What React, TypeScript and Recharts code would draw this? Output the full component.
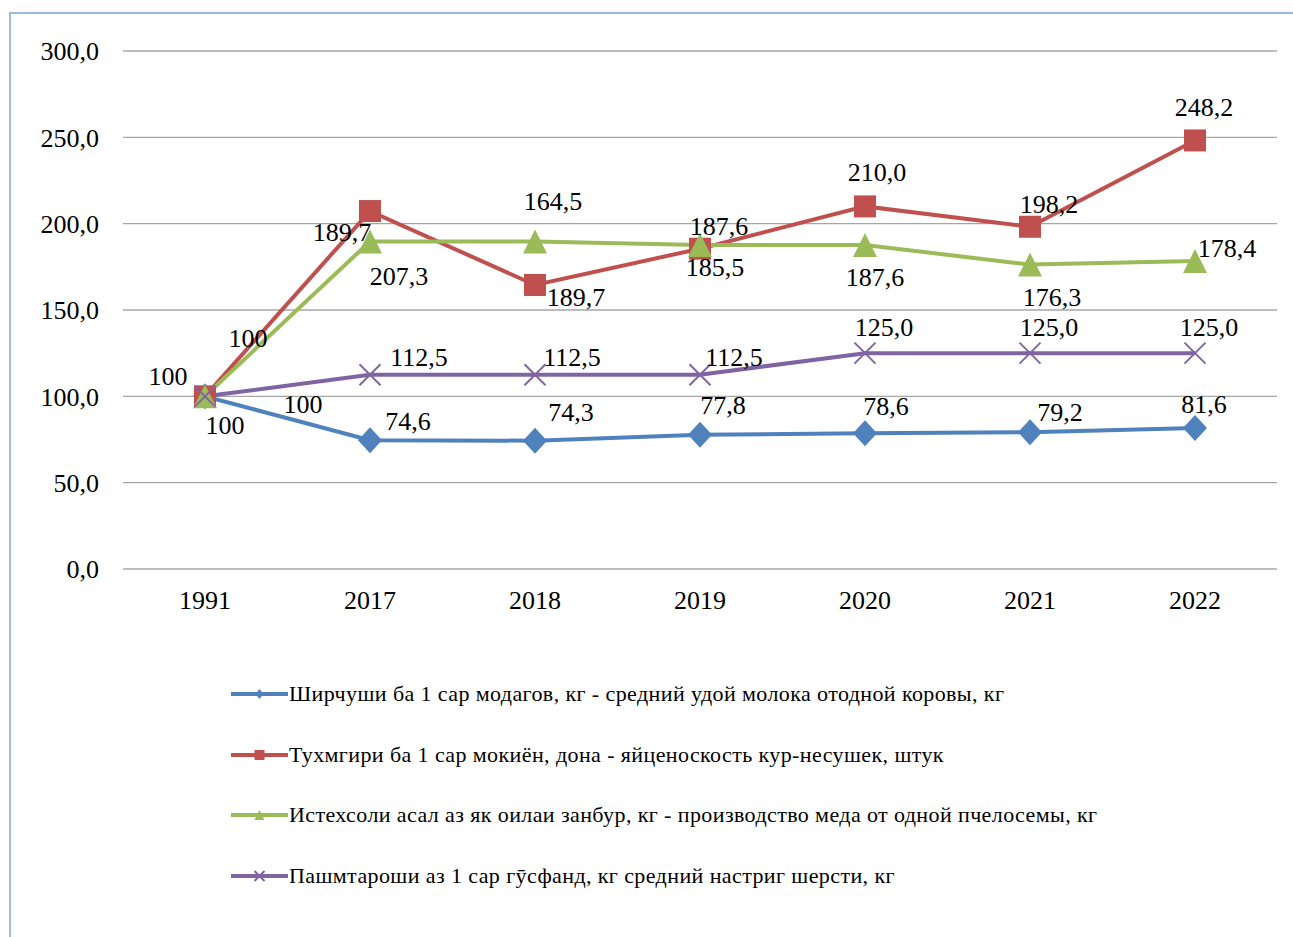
import React from 'react';
import { LineChart, Line, XAxis, YAxis, CartesianGrid } from 'recharts';

const years = ['1991', '2017', '2018', '2019', '2020', '2021', '2022'];
const milk = [100, 74.6, 74.3, 77.8, 78.6, 79.2, 81.6];
const eggs = [100, 207.3, 164.5, 185.5, 210.0, 198.2, 248.2];
const honey = [100, 189.7, 189.7, 187.6, 187.6, 176.3, 178.4];
const wool = [100, 112.5, 112.5, 112.5, 125.0, 125.0, 125.0];
const yTicks = [0, 50, 100, 150, 200, 250, 300];

const names = {
  milk: 'Ширчуши ба 1 сар модагов, кг - средний удой молока отодной коровы, кг',
  eggs: 'Тухмгири ба 1 сар мокиён, дона - яйценоскость кур-несушек, штук',
  honey: 'Истехсоли асал аз як оилаи занбур, кг - производство меда от одной пчелосемы, кг',
  wool: 'Пашмтароши аз 1 сар гӯсфанд, кг средний настриг шерсти, кг',
};

// hand placed label offsets (label centre relative to the point), like in the source chart
const milkOffsets = [[98, 8], [38, -19], [36, -28], [23, -29], [21, -27], [30, -20], [9, -24]];
const eggsOffsets = [[43, -58], [29, 65], [18, -83], [15, 19], [12, -34], [19, -22], [9, -33]];
const honeyOffsets = [[20, 29], [-28, -9], [41, 56], [19, -19], [10, 32], [22, 33], [32, -12]];
const woolOffsets = [[-37, -20], [49, -17], [37, -17], [34, -17], [19, -26], [19, -26], [14, -26]];

const data = years.map((year, i) => ({
  year,
  milk: milk[i],
  eggs: eggs[i],
  honey: honey[i],
  wool: wool[i],
}));

const BLUE = '#4F81BD';
const RED = '#C0504D';
const GREEN = '#9BBB59';
const PURPLE = '#8064A2';
const FONT = '"Liberation Serif", "Times New Roman", serif';

const fmt = (v: number, i: number) => (i === 0 ? v.toFixed(0) : v.toFixed(1)).replace('.', ',');

type Shape = 'diamond' | 'square' | 'triangle' | 'cross';

const marker = (shape: Shape, cx: number, cy: number, s: number, color: string, key?: string) => {
  const h = s / 2;
  if (shape === 'diamond')
    return <polygon key={key} points={`${cx},${cy - h - 1} ${cx + h},${cy} ${cx},${cy + h + 1} ${cx - h},${cy}`} fill={color} />;
  if (shape === 'square')
    return <rect key={key} x={cx - h} y={cy - h} width={s} height={s} fill={color} />;
  if (shape === 'triangle')
    return <polygon key={key} points={`${cx},${cy - h} ${cx + h},${cy + h} ${cx - h},${cy + h}`} fill={color} />;
  return (
    <g key={key}>
      <line x1={cx - h} y1={cy - h} x2={cx + h} y2={cy + h} stroke={color} strokeWidth={2} />
      <line x1={cx - h} y1={cy + h} x2={cx + h} y2={cy - h} stroke={color} strokeWidth={2} />
    </g>
  );
};

const makeDot = (shape: Shape, size: number, color: string) => (p: any) =>
  marker(shape, p.cx, p.cy, size, color, `dot-${shape}-${p.index}`);

const makeLabel = (offsets: number[][]) => (p: any) => {
  const [dx, dy] = offsets[p.index] || [0, -20];
  return (
    <text
      key={`lbl-${p.index}`}
      x={p.x + dx}
      y={p.y + dy}
      textAnchor="middle"
      dominantBaseline="central"
      fontSize={26}
      fontFamily={FONT}
      fill="#000"
    >
      {fmt(Number(p.value), p.index)}
    </text>
  );
};

const series = [
  { key: 'milk', color: BLUE, shape: 'diamond' as Shape, size: 24, offsets: milkOffsets },
  { key: 'eggs', color: RED, shape: 'square' as Shape, size: 22, offsets: eggsOffsets },
  { key: 'honey', color: GREEN, shape: 'triangle' as Shape, size: 24, offsets: honeyOffsets },
  { key: 'wool', color: PURPLE, shape: 'cross' as Shape, size: 21, offsets: woolOffsets },
];

const legendMarkSize: Record<Shape, number> = { diamond: 8, square: 10, triangle: 10, cross: 10 };

export default function App() {
  return (
    <div style={{ position: 'relative', width: 1293, height: 937, overflow: 'hidden', background: '#fff' }}>
      <style>{'body{margin:0}'}</style>
      <div
        style={{
          position: 'absolute',
          left: 9,
          top: 12,
          width: 1300,
          height: 1000,
          borderTop: '2px solid #9BB8E6',
          borderLeft: '2px solid #9BB8E6',
        }}
      />
      <div style={{ position: 'absolute', left: 0, top: 0 }}>
        <LineChart width={1293} height={937} data={data} margin={{ top: 51, right: 16, left: 23, bottom: 338 }}>
          <CartesianGrid vertical={false} stroke="#A6A6A6" strokeWidth={1.3} />
          <XAxis
            dataKey="year"
            axisLine={false}
            tickLine={false}
            padding={{ left: 82, right: 82 }}
            tickMargin={16}
            tick={{ fontSize: 26, fill: '#000', fontFamily: FONT }}
            height={30}
          />
          <YAxis
            domain={[0, 300]}
            ticks={yTicks}
            axisLine={false}
            tickLine={false}
            width={100}
            tickMargin={18}
            tickFormatter={(v: number) => v.toFixed(1).replace('.', ',')}
            tick={{ fontSize: 26, fill: '#000', fontFamily: FONT }}
          />
          {series.map((s) => (
            <Line
              key={s.key}
              type="linear"
              dataKey={s.key}
              stroke={s.color}
              strokeWidth={4}
              dot={makeDot(s.shape, s.size, s.color)}
              activeDot={false}
              label={makeLabel(s.offsets)}
              isAnimationActive={false}
            />
          ))}
        </LineChart>
      </div>
      <div
        style={{
          position: 'absolute',
          left: 231,
          top: 664,
          fontFamily: FONT,
          fontSize: 22,
          letterSpacing: 0.4,
          color: '#000',
        }}
      >
        {series.map((s) => (
          <div key={s.key} style={{ display: 'flex', alignItems: 'center', height: 60.5 }}>
            <svg width={58} height={20} style={{ marginRight: 0 }}>
              <line x1={0} y1={10} x2={57} y2={10} stroke={s.color} strokeWidth={4} />
              {marker(s.shape, 28.5, 10, legendMarkSize[s.shape], s.color)}
            </svg>
            <span style={{ whiteSpace: 'nowrap' }}>{names[s.key as keyof typeof names]}</span>
          </div>
        ))}
      </div>
    </div>
  );
}
